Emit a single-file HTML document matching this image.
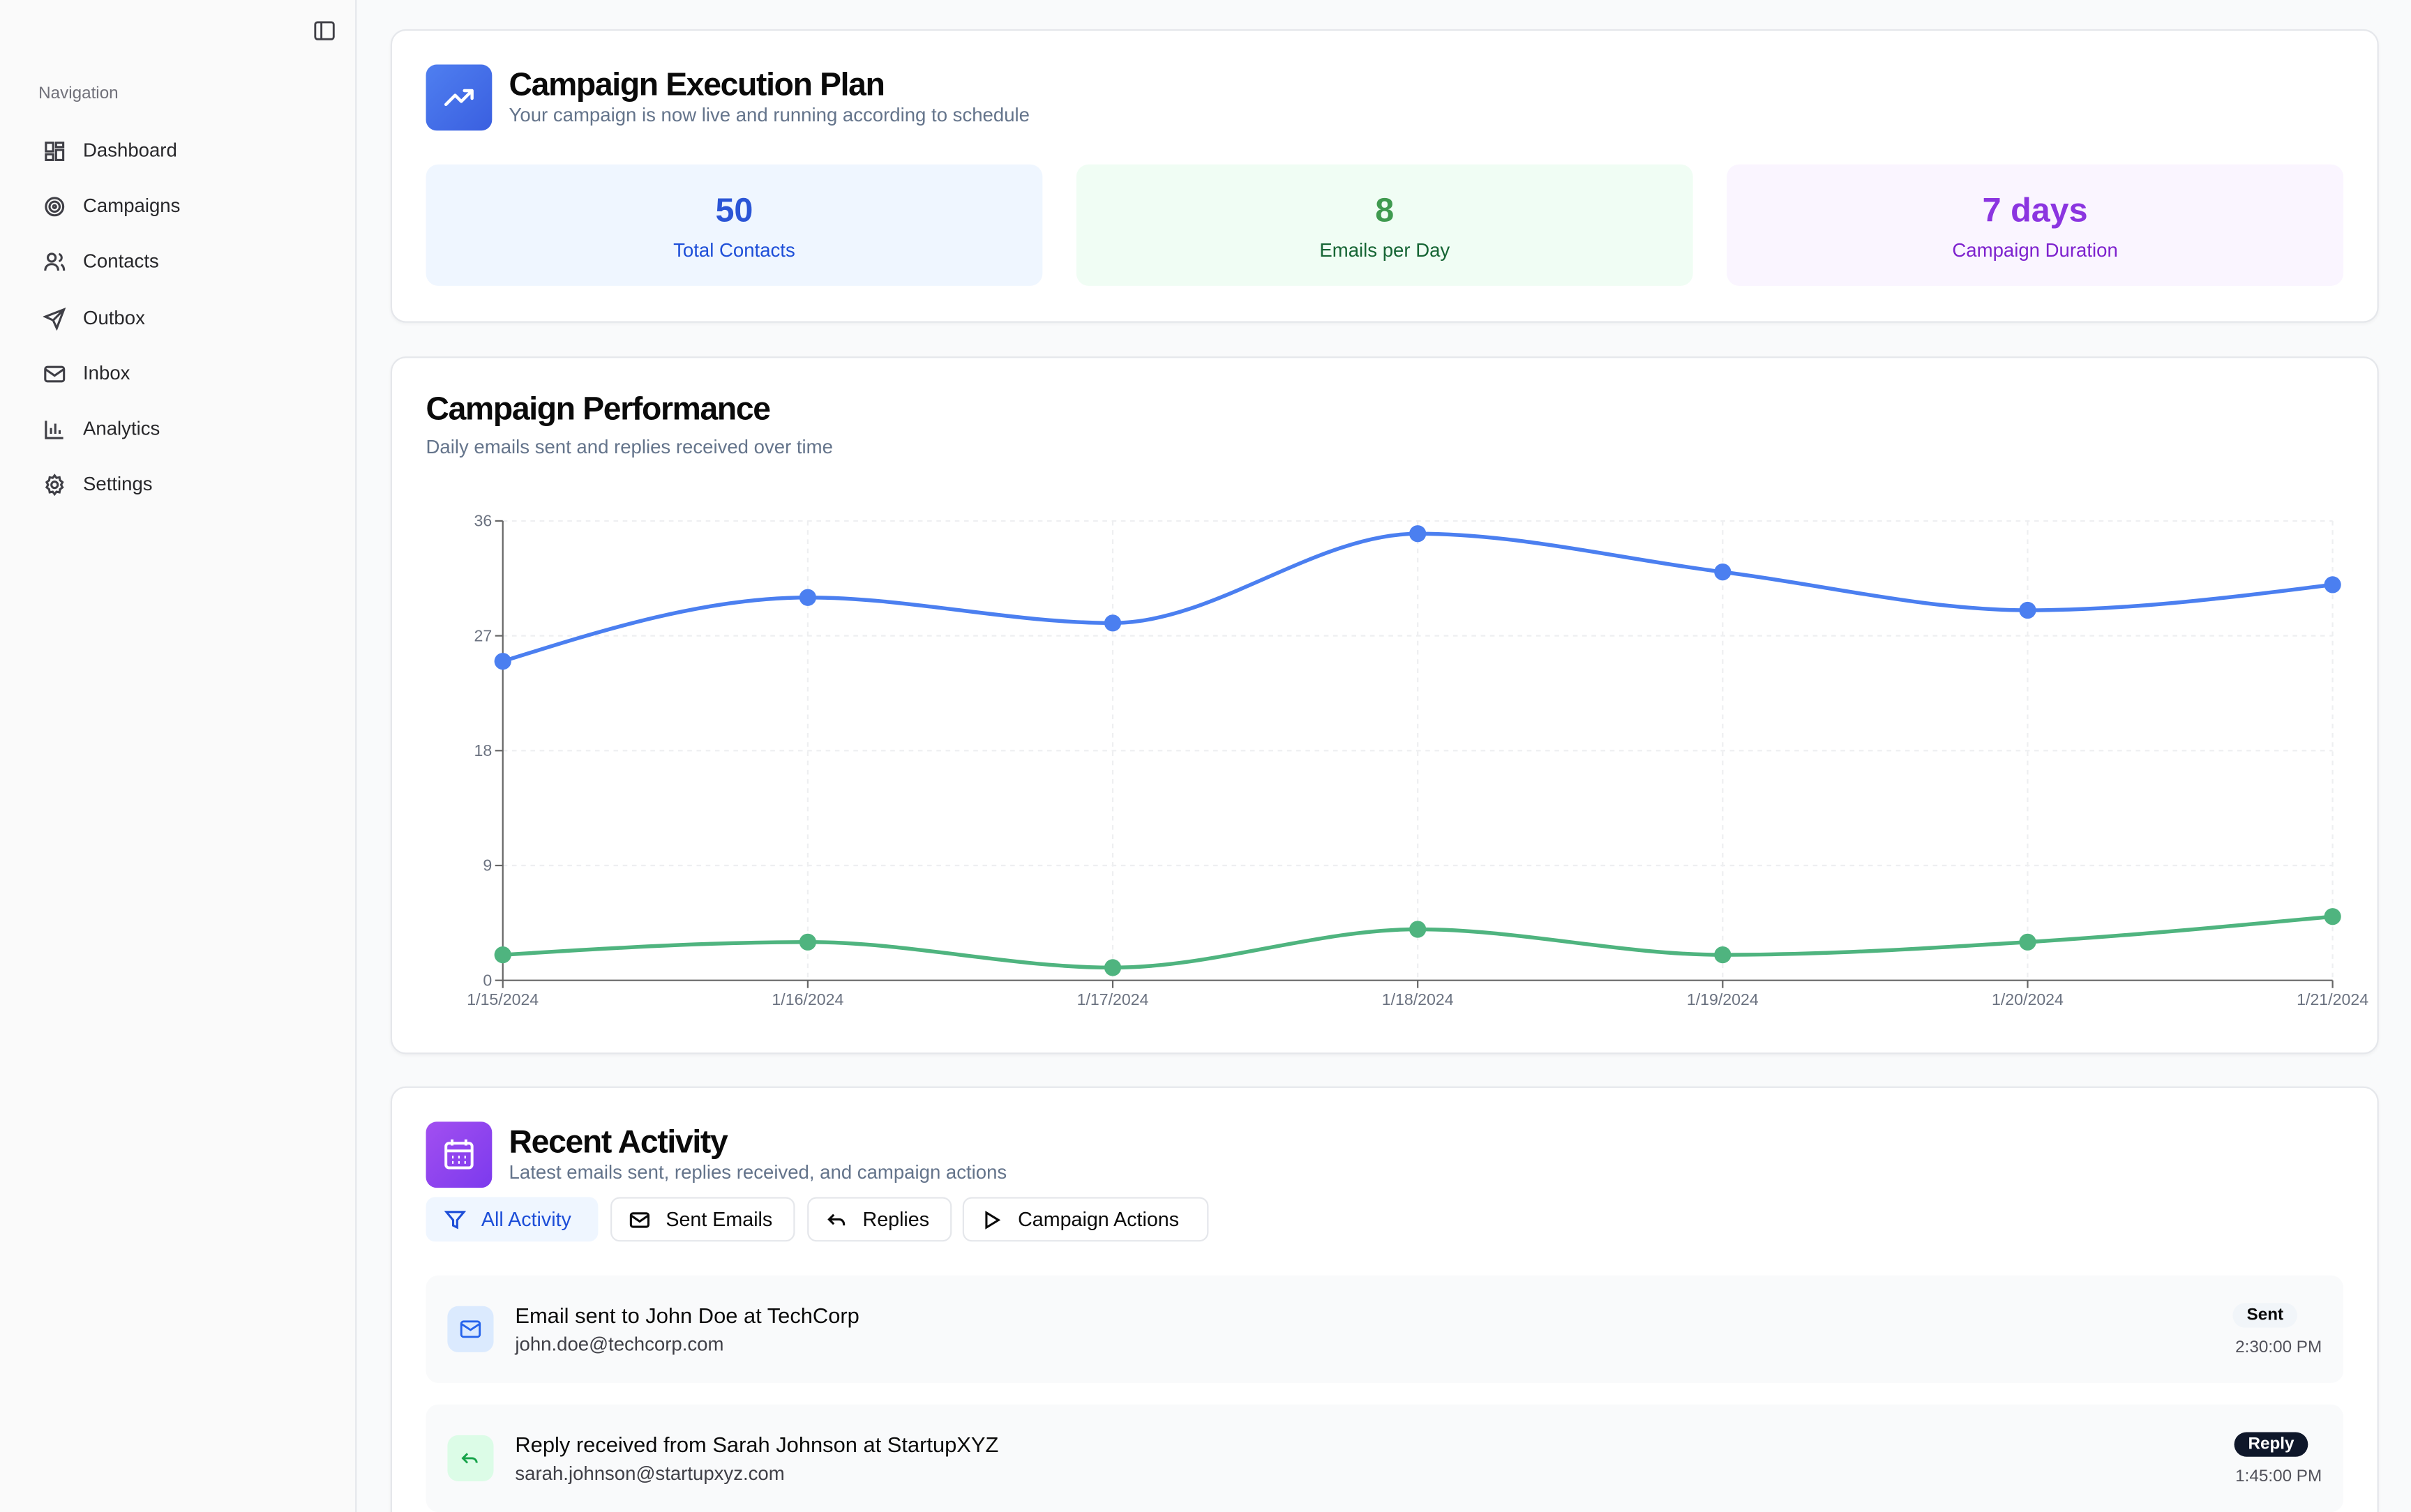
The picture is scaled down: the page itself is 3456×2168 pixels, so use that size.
<!DOCTYPE html>
<html><head><meta charset="utf-8">
<style>
*{box-sizing:border-box;margin:0;padding:0}
html,body{width:3456px;height:2168px;overflow:hidden;background:#f9fafb}
#root{position:absolute;left:0;top:0;width:1568px;height:984px;overflow:hidden;transform:scale(2.2041,2.2033);transform-origin:0 0;font-family:"Liberation Sans",sans-serif;color:#0a0a0a}
.side{position:absolute;left:0;top:0;width:232px;height:984px;background:#fafafa;border-right:1px solid #e5e7eb}
.nav-item{position:absolute;left:28px;font-size:12.5px;color:#27272a;display:flex;align-items:center;gap:11px;height:20px}
.nav-item svg{width:15px;height:15px;stroke:#3f3f46;fill:none;stroke-width:1.5}
.card{position:absolute;left:254px;width:1293px;background:#fff;border:1px solid #e5e7eb;border-radius:10px;box-shadow:0 1px 2px rgba(0,0,0,.04)}
.stat{position:absolute;top:87px;width:401px;height:79px;border-radius:8px;text-align:center}
.stat .v{font-size:22px;font-weight:bold;margin-top:17px}
.stat .l{font-size:12.5px;margin-top:6px}
.btn{position:absolute;top:71px;height:29px;border:1px solid #e5e7eb;border-radius:6px;font-size:13px;display:flex;align-items:center;gap:10px;padding:0 11px;color:#0a0a0a;font-weight:500}
.btn svg{width:14px;height:14px;fill:none;stroke:currentColor;stroke-width:1.6}
.act{position:absolute;left:22px;width:1247px;height:70px;background:#f9fafb;border-radius:8px}
</style></head><body>
<div id="root">
<div class="side">
  <svg style="position:absolute;left:204px;top:13px" width="14" height="14" viewBox="0 0 14 14" fill="none" stroke="#3f3f46" stroke-width="1.3"><rect x="1" y="1.5" width="12" height="11" rx="1.5"/><line x1="5" y1="1.5" x2="5" y2="12.5"/></svg>
  <div style="position:absolute;left:25px;top:55px;font-size:11px;color:#71717a">Navigation</div>
  <div class="nav-item" style="top:88px"><svg viewBox="0 0 16 16"><rect x="2" y="2" width="5" height="6"/><rect x="9" y="2" width="5" height="3"/><rect x="9" y="7" width="5" height="7"/><rect x="2" y="10" width="5" height="4"/></svg>Dashboard</div>
  <div class="nav-item" style="top:124px"><svg viewBox="0 0 16 16"><circle cx="8" cy="8" r="6"/><circle cx="8" cy="8" r="3.5"/><circle cx="8" cy="8" r="1"/></svg>Campaigns</div>
  <div class="nav-item" style="top:160px"><svg viewBox="0 0 16 16"><circle cx="6" cy="5" r="2.7"/><path d="M1.5 14c0-3 2-4.5 4.5-4.5s4.5 1.5 4.5 4.5M11 2.5a2.6 2.6 0 010 5M12.5 9.8c1.3.6 2 2 2 4.2"/></svg>Contacts</div>
  <div class="nav-item" style="top:197px"><svg viewBox="0 0 16 16"><path d="M14.5 1.5L1.5 6.5l5.5 2.5 2.5 5.5z M7 9l7.5-7.5"/></svg>Outbox</div>
  <div class="nav-item" style="top:233px"><svg viewBox="0 0 16 16"><rect x="1.5" y="3" width="13" height="10" rx="1.5"/><path d="M1.5 4.5L8 9l6.5-4.5"/></svg>Inbox</div>
  <div class="nav-item" style="top:269px"><svg viewBox="0 0 16 16"><path d="M2 2v12h12M5.5 11V7M8.5 11V4M11.5 11V8.5"/></svg>Analytics</div>
  <div class="nav-item" style="top:305px"><svg viewBox="0 0 16 16"><circle cx="8" cy="8" r="2.2"/><path d="M8 1.5l1.3 1.7 2.1-.4.4 2.1 1.7 1.3-1 1.8 1 1.8-1.7 1.3-.4 2.1-2.1-.4L8 14.5l-1.3-1.7-2.1.4-.4-2.1-1.7-1.3 1-1.8-1-1.8 1.7-1.3.4-2.1 2.1.4z"/></svg>Settings</div>
</div>

<div class="card" style="top:19px;height:191px">
  <div style="position:absolute;left:22px;top:22px;width:43px;height:43px;border-radius:7px;background:linear-gradient(135deg,#4f7ff0,#3a5fe0)"><svg width="43" height="43" viewBox="0 0 43 43" fill="none" stroke="#fff" stroke-width="2" stroke-linecap="round" stroke-linejoin="round"><path d="M13 26l6-6 4 4 7-7M25 17h5v5"/></svg></div>
  <div style="position:absolute;left:76px;top:24px;font-size:21px;font-weight:bold;letter-spacing:-.6px">Campaign Execution Plan</div>
  <div style="position:absolute;left:76px;top:48px;font-size:12.5px;color:#64748b">Your campaign is now live and running according to schedule</div>
  <div class="stat" style="left:22px;background:#eff6ff"><div class="v" style="color:#2b55d6">50</div><div class="l" style="color:#1d4ed8">Total Contacts</div></div>
  <div class="stat" style="left:445px;background:#f0fdf4"><div class="v" style="color:#3f9a4f">8</div><div class="l" style="color:#166534">Emails per Day</div></div>
  <div class="stat" style="left:868px;background:#faf5ff"><div class="v" style="color:#8b35e0">7 days</div><div class="l" style="color:#7e22ce">Campaign Duration</div></div>
</div>

<div class="card" style="top:232px;height:454px">
  <div style="position:absolute;left:22px;top:22px;font-size:21px;font-weight:bold;letter-spacing:-.6px">Campaign Performance</div>
  <div style="position:absolute;left:22px;top:51px;font-size:12.5px;color:#64748b">Daily emails sent and replies received over time</div>
</div>
<svg id="chart" style="position:absolute;left:0;top:0" width="1568" height="984"></svg>

<div class="card" style="top:707px;height:320px">
  <div style="position:absolute;left:22px;top:22px;width:43px;height:43px;border-radius:7px;background:linear-gradient(135deg,#a24ff0,#7c3aed)"><svg width="43" height="43" viewBox="0 0 43 43" fill="none" stroke="#fff" stroke-width="1.8"><rect x="13" y="14" width="17" height="16" rx="2"/><path d="M13 19h17M17 11.5v4M26 11.5v4"/><path d="M17 23h1M21 23h1M25 23h1M17 26.5h1M21 26.5h1M25 26.5h1"/></svg></div>
  <div style="position:absolute;left:76px;top:24px;font-size:21px;font-weight:bold;letter-spacing:-.6px">Recent Activity</div>
  <div style="position:absolute;left:76px;top:48px;font-size:12.5px;color:#64748b">Latest emails sent, replies received, and campaign actions</div>
  <div class="btn" style="left:22px;width:112px;background:#eff6ff;border-color:#eff6ff;color:#1d4ed8"><svg viewBox="0 0 16 16"><path d="M1.5 2h13l-5 6v5.5l-3-1.5V8z"/></svg>All Activity</div>
  <div class="btn" style="left:142px;width:120px"><svg viewBox="0 0 16 16"><rect x="1.5" y="3" width="13" height="10" rx="1.5"/><path d="M1.5 4.5L8 9l6.5-4.5"/></svg>Sent Emails</div>
  <div class="btn" style="left:270px;width:94px"><svg viewBox="0 0 16 16"><path d="M6 4L2.5 7.5 6 11M2.5 7.5H10a3.5 3.5 0 013.5 3.5v1"/></svg>Replies</div>
  <div class="btn" style="left:371px;width:160px"><svg viewBox="0 0 16 16"><path d="M4 2.5l9 5.5-9 5.5z"/></svg>Campaign Actions</div>
  <div class="act" style="top:122px">
    <div style="position:absolute;left:14px;top:20px;width:30px;height:30px;border-radius:7px;background:#dbeafe"><svg width="30" height="30" viewBox="0 0 30 30" fill="none" stroke="#2563eb" stroke-width="1.3"><rect x="9" y="10" width="12" height="10" rx="1.5"/><path d="M9 11.5l6 4 6-4"/></svg></div>
    <div style="position:absolute;left:58px;top:18px;font-size:14px;font-weight:500">Email sent to John Doe at TechCorp</div>
    <div style="position:absolute;left:58px;top:38px;font-size:12.5px;color:#3f3f46">john.doe@techcorp.com</div>
    <div style="position:absolute;right:30px;top:18px;padding:2px 9px;border-radius:9px;background:#f1f5f9;font-size:11px;font-weight:bold">Sent</div>
    <div style="position:absolute;right:14px;top:41px;font-size:11px;color:#52525b">2:30:00 PM</div>
  </div>
  <div class="act" style="top:206px">
    <div style="position:absolute;left:14px;top:20px;width:30px;height:30px;border-radius:7px;background:#dcfce7"><svg width="30" height="30" viewBox="0 0 30 30" fill="none" stroke="#16a34a" stroke-width="1.3"><path d="M13 12l-3 3 3 3M10 15h6a3 3 0 013 3"/></svg></div>
    <div style="position:absolute;left:58px;top:18px;font-size:14px;font-weight:500">Reply received from Sarah Johnson at StartupXYZ</div>
    <div style="position:absolute;left:58px;top:38px;font-size:12.5px;color:#3f3f46">sarah.johnson@startupxyz.com</div>
    <div style="position:absolute;right:23px;top:18px;padding:2px 9px;border-radius:9px;background:#0f172a;color:#fff;font-size:11px;font-weight:bold">Reply</div>
    <div style="position:absolute;right:14px;top:41px;font-size:11px;color:#52525b">1:45:00 PM</div>
  </div>
</div>
</div>
<script>
const categories=["1/15/2024","1/16/2024","1/17/2024","1/18/2024","1/19/2024","1/20/2024","1/21/2024"];
const sentValues=[25,30,28,35,32,29,31];
const replyValues=[2,3,1,4,2,3,5];
const yTicks=[0,9,18,27,36];
const NS="http://www.w3.org/2000/svg";
const svg=document.getElementById('chart');
const X0=327,X1=1517,Y0=638,Y1=339,YMAX=36;
const xs=i=>X0+(X1-X0)*i/(categories.length-1);
const ys=v=>Y0-(Y0-Y1)*v/YMAX;
function mk(t,a,p){const e=document.createElementNS(NS,t);for(const k in a)e.setAttribute(k,a[k]);(p||svg).appendChild(e);return e;}
yTicks.forEach(t=>{
  if(t>0){const g=mk('line',{x1:X0,x2:X1,y1:ys(t),y2:ys(t),stroke:'#eeeff1','stroke-dasharray':'3 3'});
  
  }
  mk('line',{x1:X0-5,x2:X0,y1:ys(t),y2:ys(t),stroke:'#666'});
  const tx=mk('text',{x:X0-7,y:ys(t)+3.5,'text-anchor':'end','font-size':'10.5',fill:'#6b7280','font-family':'Liberation Sans'});
  tx.textContent=t;
  
  
});
categories.forEach((c,i)=>{
  if(i>0){const g=mk('line',{x1:xs(i),x2:xs(i),y1:Y1,y2:Y0,stroke:'#eeeff1','stroke-dasharray':'3 3'});
  
  }
  mk('line',{x1:xs(i),x2:xs(i),y1:Y0,y2:Y0+5,stroke:'#666'});
  const tx=mk('text',{x:xs(i),y:Y0+16,'text-anchor':'middle','font-size':'10.5',fill:'#6b7280','font-family':'Liberation Sans'});
  tx.textContent=c;
  
  
});
const ya=mk('line',{x1:X0,x2:X0,y1:Y1,y2:Y0,stroke:'#666'});


const xa=mk('line',{x1:X0,x2:X1,y1:Y0,y2:Y0,stroke:'#666'});


function monotone(px,py){
  const n=px.length,d=[],m=[];
  for(let i=0;i<n-1;i++)d.push((py[i+1]-py[i])/(px[i+1]-px[i]));
  for(let i=0;i<n;i++){
    if(i===0)m.push(d[0]);else if(i===n-1)m.push(d[n-2]);
    else{ if(d[i-1]*d[i]<=0)m.push(0);else{const h0=px[i]-px[i-1],h1=px[i+1]-px[i];const p=(d[i-1]*h1+d[i]*h0)/(h0+h1);m.push((Math.sign(d[i-1])+Math.sign(d[i]))*Math.min(Math.abs(d[i-1]),Math.abs(d[i]),0.5*Math.abs(p)));}}
  }
  m[0]=(3*d[0]-m[1])/2;const hn=n-1;m[hn]=(3*d[hn-1]-m[hn-1])/2;
  let s=`M${px[0]},${py[0]}`;
  for(let i=0;i<n-1;i++){const dx=(px[i+1]-px[i])/3;s+=`C${px[i]+dx},${py[i]+m[i]*dx} ${px[i+1]-dx},${py[i+1]-m[i+1]*dx} ${px[i+1]},${py[i+1]}`;}
  return s;
}
function series(vals,color,name){
  const px=vals.map((v,i)=>xs(i)),py=vals.map(ys);
  const p=mk('path',{d:monotone(px,py),fill:'none',stroke:color,'stroke-width':'2.5'});
  
  
  vals.forEach((v,i)=>{
    const c=mk('circle',{cx:xs(i),cy:ys(v),r:5.5,fill:color});
    
    
  });
}
series(sentValues,'#4b7ff0','emails-sent');
series(replyValues,'#4fb47f','replies');
</script>
</body></html>
